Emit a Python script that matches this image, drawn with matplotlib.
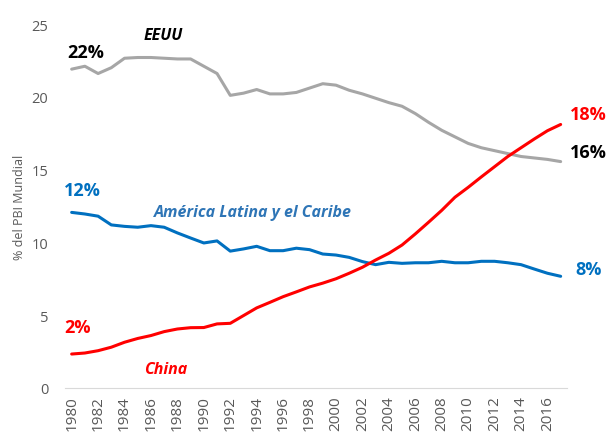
import matplotlib
matplotlib.use("Agg")
import matplotlib.pyplot as plt

years = list(range(1980, 2018))

eeuu = [21.9, 22.1, 21.6, 22.0, 22.65, 22.7, 22.7, 22.65, 22.6, 22.6,
        22.1, 21.6, 20.1, 20.25, 20.5, 20.2, 20.2, 20.3, 20.6, 20.9,
        20.8, 20.45, 20.2, 19.9, 19.6, 19.35, 18.85, 18.25, 17.7, 17.25,
        16.8, 16.5, 16.3, 16.1, 15.9, 15.8, 15.7, 15.55]

china = [2.33, 2.4, 2.56, 2.8, 3.14, 3.4, 3.6, 3.87, 4.05, 4.14,
         4.15, 4.4, 4.44, 4.97, 5.5, 5.88, 6.27, 6.6, 6.94, 7.2,
         7.5, 7.88, 8.29, 8.79, 9.25, 9.82, 10.58, 11.38, 12.2, 13.1,
         13.78, 14.5, 15.2, 15.9, 16.5, 17.1, 17.67, 18.1]

latam = [12.06, 11.95, 11.8, 11.2, 11.1, 11.04, 11.15, 11.04, 10.65, 10.3,
         9.96, 10.1, 9.4, 9.55, 9.73, 9.43, 9.43, 9.6, 9.5, 9.2,
         9.13, 8.97, 8.68, 8.47, 8.63, 8.56, 8.6, 8.6, 8.7, 8.6,
         8.6, 8.7, 8.7, 8.6, 8.47, 8.17, 7.88, 7.67]

GRAY = '#A6A6A6'
BLUE = '#0070C0'
RED = '#FF0000'
TICK = '#595959'

plt.rcParams['font.family'] = ['Open Sans', 'DejaVu Sans']

fig = plt.figure(figsize=(6.08, 4.39), dpi=100)
ax = fig.add_axes([0.107, 0.114, 0.826, 0.829])

x = list(range(len(years)))
ax.plot(x, eeuu, color=GRAY, lw=2.2, solid_capstyle='round')
ax.plot(x, latam, color=BLUE, lw=2.2, solid_capstyle='round')
ax.plot(x, china, color=RED, lw=2.2, solid_capstyle='round')

ax.set_xlim(-0.5, len(years) - 0.5)
ax.set_ylim(0, 25)
ax.set_yticks([0, 5, 10, 15, 20, 25])
ax.set_xticks(x[::2])
ax.set_xticklabels([str(y) for y in years[::2]], rotation=90)
ax.tick_params(axis='both', length=0, colors=TICK)
ax.tick_params(axis='y', pad=12, labelsize=10.5)
ax.tick_params(axis='x', pad=5, labelsize=11)

for s in ['top', 'right', 'left']:
    ax.spines[s].set_visible(False)
ax.spines['bottom'].set_color('#D9D9D9')

ax.set_ylabel('% del PBI Mundial', color=TICK, fontsize=9, labelpad=4)

bold = dict(fontsize=13, fontweight='bold', ha='center', va='center')
ax.text(1.1, 23.1, '22%', color='black', **bold)
ax.text(0.8, 13.6, '12%', color=BLUE, **bold)
ax.text(0.45, 4.2, '2%', color=RED, **bold)
ax.text(39.1, 18.8, '18%', color=RED, clip_on=False, **bold)
ax.text(39.1, 16.2, '16%', color='black', clip_on=False, **bold)
ax.text(39.1, 8.2, '8%', color=BLUE, clip_on=False, **bold)

ital = dict(fontsize=11.5, fontweight='bold', fontstyle='italic', ha='center', va='center')
ax.text(6.9, 24.25, 'EEUU', color='black', **ital)
ax.text(13.7, 12.1, 'América Latina y el Caribe', color='#2E75B6', **ital)
ax.text(7.1, 1.3, 'China', color=RED, **ital)

fig.savefig('out.png', dpi=100)
